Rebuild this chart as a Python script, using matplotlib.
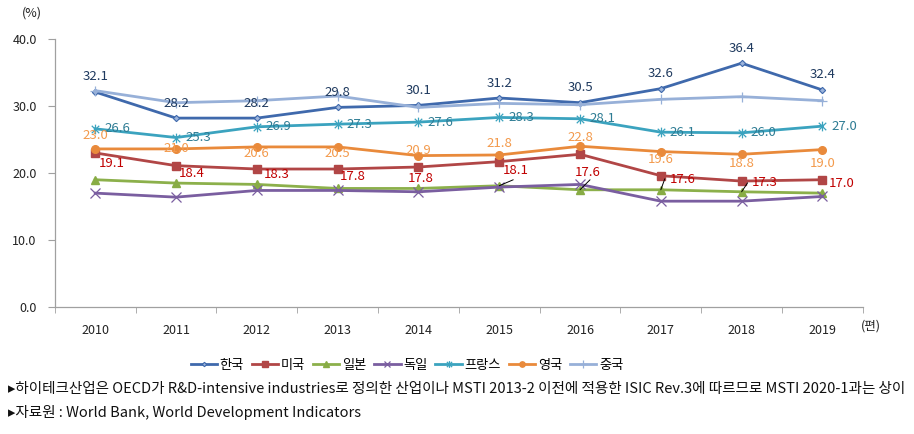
import matplotlib
matplotlib.use("Agg")
import matplotlib.pyplot as plt
from matplotlib.path import Path
import numpy as np

plt.rcParams['font.family'] = ['Noto Sans CJK KR', 'DejaVu Sans']

years = [2010, 2011, 2012, 2013, 2014, 2015, 2016, 2017, 2018, 2019]

# line values
korea   = [32.1, 28.2, 28.2, 29.8, 30.1, 31.2, 30.5, 32.6, 36.4, 32.4]
usa     = [23.0, 21.1, 20.6, 20.6, 20.9, 21.7, 22.8, 19.6, 18.8, 19.0]
japan   = [19.0, 18.5, 18.3, 17.7, 17.7, 18.1, 17.5, 17.5, 17.2, 17.0]
germany = [17.0, 16.4, 17.4, 17.4, 17.2, 17.9, 18.3, 15.8, 15.8, 16.5]
france  = [26.6, 25.3, 26.9, 27.3, 27.6, 28.3, 28.1, 26.1, 26.0, 27.0]
uk      = [23.6, 23.6, 23.9, 23.9, 22.6, 22.7, 24.0, 23.2, 22.8, 23.5]
china   = [32.3, 30.5, 30.8, 31.5, 29.8, 30.4, 30.2, 31.0, 31.4, 30.8]

# data labels as printed on the chart
korea_lbl  = ['32.1', '28.2', '28.2', '29.8', '30.1', '31.2', '30.5', '32.6', '36.4', '32.4']
france_lbl = ['26.6', '25.3', '26.9', '27.3', '27.6', '28.3', '28.1', '26.1', '26.0', '27.0']
uk_lbl     = ['23.0', '21.0', '20.6', '20.5', '20.9', '21.8', '22.8', '19.6', '18.8', '19.0']
red_lbl    = ['19.1', '18.4', '18.3', '17.8', '17.8', '18.1', '17.6', '17.6', '17.3', '17.0']

names = ['한국', '미국', '일본', '독일', '프랑스', '영국', '중국']

note1 = '▸하이테크산업은 OECD가 R&D-intensive industries로 정의한 산업이나 MSTI 2013-2 이전에 적용한 ISIC Rev.3에 따르므로 MSTI 2020-1과는 상이'
note2 = '▸자료원 : World Bank, World Development Indicators'

star = Path([(-1, -1), (1, 1), (-1, 1), (1, -1), (0, -1.3), (0, 1.3)],
            [Path.MOVETO, Path.LINETO, Path.MOVETO, Path.LINETO, Path.MOVETO, Path.LINETO])

fig = plt.figure(figsize=(9.14, 4.34), dpi=100)
ax = fig.add_axes([0.060, 0.2926, 0.884, 0.6174])

lw = 2.0
ax.plot(years, korea, color='#3F69AC', lw=lw, marker='D', ms=3.2, mfc='#9DB5DC', mec='#3F69AC', mew=0.8, label=names[0], zorder=5)
ax.plot(years, usa, color='#B14646', lw=lw, marker='s', ms=5.2, mfc='#B14646', mec='#B14646', label=names[1], zorder=4)
ax.plot(years, japan, color='#8CB04B', lw=lw, marker='^', ms=5.5, mfc='#88AC45', mec='#88AC45', label=names[2], zorder=3)
ax.plot(years, germany, color='#7A5EA0', lw=lw, marker='x', ms=6.5, mec='#7A5EA0', mew=0.9, label=names[3], zorder=3)
ax.plot(years, france, color='#3BA3BF', lw=lw, marker=star, ms=7, mfc='none', mec='#3BA3BF', mew=0.9, label=names[4], zorder=4)
ax.plot(years, uk, color='#E98A3B', lw=lw, marker='o', ms=5.5, mfc='#E98A3B', mec='#E98A3B', label=names[5], zorder=4)
ax.plot(years, china, color='#97B0D8', lw=lw, marker='+', ms=7.5, mec='#97B0D8', mew=0.9, label=names[6], zorder=5)

ax.set_xlim(2009.5, 2019.5)
ax.set_ylim(0, 40)
ax.set_yticks(np.arange(0, 41, 10))
ax.set_yticklabels(['%.1f' % v for v in np.arange(0, 41, 10)])
ax.set_xticks(years)
ax.set_xticks(np.arange(2009.5, 2020, 1), minor=True)
ax.tick_params(axis='x', which='major', length=0, pad=12, labelsize=9, labelcolor='#222222')
ax.tick_params(axis='x', which='minor', length=4, color='#A0A0A0', direction='out')
ax.tick_params(axis='y', length=5, color='#A0A0A0', pad=8, labelsize=9, labelcolor='#222222')
for s in ['top', 'right']:
    ax.spines[s].set_visible(False)
for s in ['left', 'bottom']:
    ax.spines[s].set_color('#A0A0A0')
    ax.spines[s].set_linewidth(0.9)

fs = 9.5
for x, y, t in zip(years, korea, korea_lbl):
    ax.annotate(t, (x, y), xytext=(0, 15), textcoords='offset pixels',
                ha='center', va='center', fontsize=fs, color='#1F3A5F', zorder=6)
for x, y, t in zip(years, france, france_lbl):
    ax.annotate(t, (x, y), xytext=(9, 0), textcoords='offset pixels',
                ha='left', va='center', fontsize=fs, color='#2E7C94', zorder=6)
uk_off = [13, 0, -7, -7, 5, 11, 9, -8, -9, -14]
for x, y, t, dy in zip(years, uk, uk_lbl, uk_off):
    ax.annotate(t, (x, y), xytext=(0, dy), textcoords='offset pixels',
                ha='center', va='center', fontsize=fs, color='#F39A4C', zorder=6)
red_off = [(16, 16), (16, 10), (20, 10), (15, 12), (2, 10), (16, 15), (8, 17), (22, 10), (23, 9), (19, 10)]
lead = [(0, 0), (0, 0), (0, 0), (0, 0), (0, 0), (14, 6), (10, 10), (4, 11), (6, 9), (0, 0)]
for x, y, t, (dx, dy), (lx, ly) in zip(years, japan, red_lbl, red_off, lead):
    ax.annotate(t, (x, y), xytext=(dx, dy), textcoords='offset pixels',
                ha='center', va='center', fontsize=fs, color='#C00000', zorder=6)
    if lx or ly:
        ax.annotate('', (x, y), xytext=(lx, ly), textcoords='offset pixels',
                    arrowprops=dict(arrowstyle='-', color='black', lw=0.7,
                                    shrinkA=0, shrinkB=0), zorder=6)

fig.text(32 / 914, 1 - 13 / 434, '(%)', ha='center', va='center', fontsize=9, color='#222222')
fig.text(871 / 914, 1 - 326 / 434, '(편)', ha='center', va='center', fontsize=9, color='#222222')

fig.legend(loc='center', bbox_to_anchor=(407 / 914, 1 - 365 / 434), ncol=7, frameon=False,
           fontsize=9.5, handlelength=2.0, columnspacing=0.6, handletextpad=0.2, borderpad=0,
           markerscale=0.7)

fig.text(8 / 914, 1 - 389 / 434, note1, ha='left', va='center', fontsize=10.5, color='#111111')
fig.text(8 / 914, 1 - 412 / 434, note2, ha='left', va='center', fontsize=10.5, color='#111111')

fig.savefig('out.png', dpi=100)
